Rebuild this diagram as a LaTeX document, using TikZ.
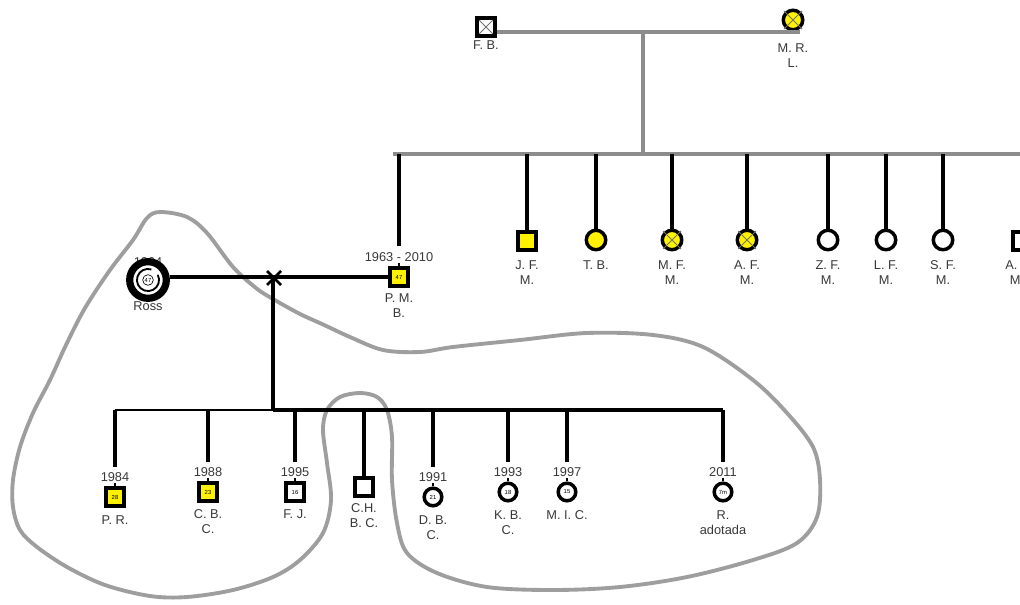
\documentclass[tikz,border=0pt]{standalone}
\usepackage{fontspec}
\setmainfont{Liberation Sans}
\usetikzlibrary{calc}
\begin{document}
\begin{tikzpicture}[x=0.75pt,y=-0.75pt,
  sym/.style={draw=black, line width=2.6pt, inner sep=0pt, fill=white,
    font=\fontsize{4.4}{4.4}\selectfont},
  male/.style={sym, rectangle, minimum size=13.8pt},
  female/.style={sym, circle, minimum size=14.6pt},
  kidmale/.style={sym, rectangle, minimum size=13.2pt},
  kidfemale/.style={sym, circle, minimum size=13.2pt},
  aff/.style={fill=yellow},
  crossed/.style={path picture={\draw[black!55, line width=0.6pt]
      (path picture bounding box.north west) -- (path picture bounding box.south east)
      (path picture bounding box.north east) -- (path picture bounding box.south west);}},
  lab/.style={font=\fontsize{9.6}{11.6}\selectfont, text=black!78, inner sep=0pt,
    align=center, anchor=north},
  famline/.style={draw=black!45, line width=2.5pt},
  kinline/.style={draw=black, line width=2.5pt},
  xmark/.style={draw=black!55, line width=0.7pt},
  hull/.style={draw=black!38, line width=2.9pt, line join=round, line cap=round},
]
\useasboundingbox (0,0) rectangle (1020,605);
\clip (0,0) rectangle (1020,605);

% household outline around the nuclear family
\draw[hull] plot[smooth cycle, tension=0.55] coordinates {
  (160,212) (187,217) (207,233) (233,267) (256,288) (273,299) (300,314)
  (322,324) (350,337) (383,350) (420,352) (453,347) (520,340) (587,333)
  (653,335) (703,347) (753,380) (787,413) (813,447) (820,480) (817,517)
  (797,543) (753,560) (687,577) (620,587) (553,590) (487,587) (437,573)
  (407,553) (397,523) (392,480) (392,437) (387,410) (377,397) (360,393)
  (340,397) (327,410) (323,430) (327,463) (331,500) (323,533) (300,560)
  (273,577) (233,590) (187,597) (150,596) (105,585) (67,567) (37,547)
  (20,530) (13,507) (13,480) (20,447) (33,413) (50,380) (66,345)
  (85,308) (110,270) (133,240) (147,218)};

% grandparents
\node[male, crossed] (FB) at (486,27) {};
\node[female, aff] (MR) at (793,20) {};
\node[lab] (lFB) at (486,40) {F. B.};
\node[lab] (lMR) at (793,43) {M. R.\\L.};

\coordinate (c1) at (643,32);
\coordinate (mrEnd) at (800,32);
\coordinate (sib) at (643,154);
\coordinate (sibL) at (393,154);
\coordinate (sibR) at (1030,154);
\draw[famline] (FB.east |- c1) -- (mrEnd);
\draw[famline] (c1) -- (sib);
\draw[famline] (sibL) -- (sibR);

% their children
\node[male, aff] (PMB) at (399,277) {47};
\node[male, aff] (JFM) at (527,241) {};
\node[female, aff] (TB) at (596,240) {};
\node[female, aff] (MFM) at (672,240) {};
\node[female, aff] (AFM) at (747,240) {};
\node[female] (ZFM) at (828,240) {};
\node[female] (LFM) at (886,240) {};
\node[female] (SFM) at (943,240) {};
\node[male] (AM) at (1022,241) {};

\foreach \n in {MR,MFM,AFM}
  \draw[xmark] ([shift={(-9,-9)}]\n.center) -- ([shift={(9,9)}]\n.center)
               ([shift={(9,-9)}]\n.center) -- ([shift={(-9,9)}]\n.center);

\node[lab] (yPMB) at (399,252) {1963 - 2010};
\node[lab] (lPMB) at (399,293) {P. M.\\B.};
\node[lab] (lJFM) at (527,260) {J. F.\\M.};
\node[lab] (lTB) at (596,260) {T. B.};
\node[lab] (lMFM) at (672,260) {M. F.\\M.};
\node[lab] (lAFM) at (747,260) {A. F.\\M.};
\node[lab] (lZFM) at (828,260) {Z. F.\\M.};
\node[lab] (lLFM) at (886,260) {L. F.\\M.};
\node[lab] (lSFM) at (943,260) {S. F.\\M.};
\node[lab, anchor=north west, align=left] (lAM) at (1005,260) {A.\\\hspace{3.5pt}M.};

\foreach \n in {JFM,TB,MFM,AFM,ZFM,LFM,SFM,AM}
  \draw[kinline] (\n |- sib) -- (\n.north);
\draw[kinline] (PMB |- sib) -- ([yshift=4.5pt]yPMB.north);
\draw[line width=1pt] (PMB.north) -- ++(0,-3);

% Ross
\node[lab] (yRoss) at (148,257) {1964};
\node[lab] (lRoss) at (148,301) {Ross};
\node[circle, draw=black, line width=5.4pt, fill=white, minimum size=27.5pt,
  inner sep=0pt] (Ross) at (148,280) {};
\draw[line width=1.4pt] ([shift={(72:8.3pt)}]Ross.center)
  arc[start angle=72, end angle=388, radius=8.3pt];
\node[circle, draw=black, line width=0.5pt, minimum size=8pt, inner sep=0pt,
  font=\fontsize{4.4}{4.4}\selectfont] (RossAge) at (Ross.center) {47};

% couple and separation mark
\coordinate (m) at (273,277);
\draw[kinline] (Ross.east |- PMB.west) -- (PMB.west);
\draw[kinline, line width=1.9pt] ([shift={(-6,-6)}]m) -- ([shift={(8,8)}]m)
  ([shift={(8,-6)}]m) -- ([shift={(-6,8)}]m);
\coordinate (kb) at (273,410);
\draw[kinline] (m) -- (kb);

% children
\node[kidmale, aff] (PR) at (115,497) {28};
\node[kidmale, aff] (CBC) at (208,492) {23};
\node[kidmale] (FJ) at (295,492) {16};
\node[kidmale] (CH) at (364,487) {};
\node[kidfemale] (DBC) at (433,497) {21};
\node[kidfemale] (KBC) at (508,492) {18};
\node[kidfemale] (MIC) at (567,492) {15};
\node[kidfemale] (R) at (723,492) {7m};

\node[lab] (yPR) at (115,472) {1984};
\node[lab] (yCBC) at (208,467) {1988};
\node[lab] (yFJ) at (295,467) {1995};
\node[lab] (yDBC) at (433,472) {1991};
\node[lab] (yKBC) at (508,467) {1993};
\node[lab] (yMIC) at (567,467) {1997};
\node[lab] (yR) at (723,467) {2011};

\node[lab] (lPR) at (115,515) {P. R.};
\node[lab] (lCBC) at (208,509) {C. B.\\C.};
\node[lab] (lFJ) at (295,509) {F. J.};
\node[lab] (lCH) at (364,503) {C.H.\\B. C.};
\node[lab] (lDBC) at (433,515) {D. B.\\C.};
\node[lab] (lKBC) at (508,510) {K. B.\\C.};
\node[lab] (lMIC) at (567,510) {M. I. C.};
\node[lab] (lR) at (723,510) {R.\\adotada};

\draw[kinline, line width=1.6pt] (PR |- kb) -- (kb);
\draw[kinline] (kb) -- (R |- kb);
\foreach \n in {PR,CBC,FJ,DBC,KBC,MIC,R}{
  \draw[kinline] (\n |- kb) -- ([yshift=3.5pt]y\n.north);
  \draw[line width=1pt] (\n.north) -- ++(0,-3);
}
\draw[kinline] (CH |- kb) -- (CH.north);
\end{tikzpicture}
\end{document}
